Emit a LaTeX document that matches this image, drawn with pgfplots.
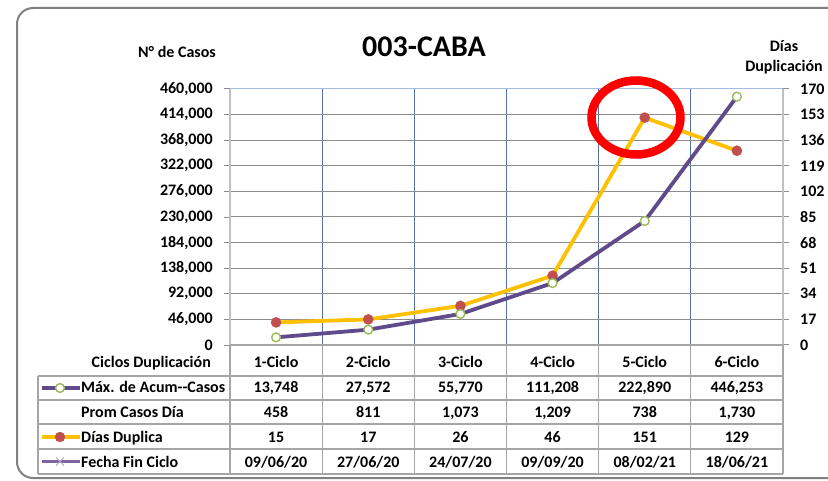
\documentclass[border=0pt]{standalone}
\usepackage{pgfplots}
\pgfplotsset{compat=1.18}
\usepackage{fontspec}
\setmainfont{Carlito}
\definecolor{purp}{HTML}{5F4B8B}
\definecolor{lav}{HTML}{8064A2}
\definecolor{lavx}{HTML}{B3A2C7}
\definecolor{grn}{HTML}{9BBB59}
\definecolor{yel}{HTML}{FFC000}
\definecolor{redm}{HTML}{C0504D}
\definecolor{vgrid}{HTML}{5573A6}
\definecolor{hgrid}{HTML}{8C8C8C}
\definecolor{topln}{HTML}{A4BCE3}
\definecolor{tabln}{HTML}{A6A6A6}
\definecolor{frm}{HTML}{808080}
\begin{document}
\begin{tikzpicture}[x=1pt,y=1pt,
  txt/.style={font=\bfseries\fontsize{16}{18}\selectfont, inner sep=0pt}]
\path[use as bounding box] (0,0) rectangle (828,480);
\coordinate (pa) at (230,135);
% outer frame
\draw[frm, line width=2pt, rounded corners=16pt] (17,472) rectangle (845,2);

% right axis: Dias Duplica (drawn first, carries grids)
\begin{axis}[
  at={(pa)}, anchor=south west, scale only axis,
  width=553pt, height=256pt,
  xmin=0.5, xmax=6.5, ymin=0, ymax=170,
  axis line style={draw=none},
  xtick={1,2,3,4,5,6},
  xticklabels={1-Ciclo,2-Ciclo,3-Ciclo,4-Ciclo,5-Ciclo,6-Ciclo},
  xticklabel style={txt, anchor=base, yshift=-16pt},
  major x tick style={draw=none},
  minor xtick={1.5,2.5,3.5,4.5,5.5},
  xminorgrids, minor x grid style={draw=vgrid, line width=1pt},
  minor tick length=0pt,
  ytick={0,17,...,170}, ytick pos=right,
  ymajorgrids, major y grid style={draw=hgrid, line width=1pt},
  tick align=outside, major tick length=6pt,
  every tick/.style={draw=hgrid, line width=1pt},
  yticklabel style={txt, anchor=west, xshift=11pt,
    /pgf/number format/assume math mode=true},
  clip=false,
]
\addplot[yel, line width=3.8pt, mark=*, mark size=5.2pt,
  mark options={draw=redm, fill=redm, line width=0.1pt}]
  coordinates {(1,15) (2,17) (3,26) (4,46) (5,151) (6,129)};
\end{axis}

% left axis: Max. de Acum--Casos
\begin{axis}[
  at={(pa)}, anchor=south west, scale only axis,
  width=553pt, height=256pt,
  xmin=0.5, xmax=6.5, ymin=0, ymax=460000,
  axis line style={draw=none},
  xtick=\empty,
  ytick={0,46000,...,460000}, ytick pos=left,
  scaled y ticks=false,
  tick align=outside, major tick length=6pt,
  every tick/.style={draw=hgrid, line width=1pt},
  yticklabel style={txt, anchor=east, xshift=-11pt,
    /pgf/number format/.cd, fixed, precision=0, 1000 sep={,},
    assume math mode=true},
  clip=false,
]
\addplot[purp, line width=3.8pt, mark=*, mark size=4.4pt,
  mark options={draw=grn, fill=white, line width=1.4pt}]
  coordinates {(1,13748) (2,27572) (3,55770) (4,111208) (5,222890) (6,446253)};
\end{axis}

% plot area border
\draw[topln, line width=1pt] (230,391) -- (783,391);
\draw[tabln!70, line width=1.2pt] (230,135) -- (230,391);
\draw[tabln!70, line width=1.2pt] (783,135) -- (783,391);

% data table grid
\foreach \yy in {104,80,56,31,6} \draw[tabln, line width=1.2pt] (38,\yy) -- (783,\yy);
\draw[tabln, line width=1.2pt] (230,135) -- (783,135);
\draw[tabln, line width=1.2pt] (38,104) -- (38,6);
\foreach \i in {0,...,6} \draw[tabln, line width=1.2pt] ({230+92.1667*\i},135) -- ({230+92.1667*\i},6);

% row headers
\node[txt, anchor=base west] at (81,88) {Máx. de Acum-{}-Casos};
\node[txt, anchor=base west] at (81,63) {Prom Casos Día};
\node[txt, anchor=base west] at (81,38) {Días Duplica};
\node[txt, anchor=base west] at (81,13) {Fecha Fin Ciclo};
% legend keys
\draw[purp, line width=3.8pt] (42,92) -- (80,92);
\draw[grn, fill=white, line width=1.4pt] (60,92) circle (4.4);
\draw[yel, line width=3.8pt] (42,43) -- (80,43);
\fill[redm] (60,43) circle (5.2);
\draw[lav, line width=3.8pt] (42,18.5) -- (80,18.5);
\draw[lavx, line width=1pt] (56,14.5) -- (64,22.5) (56,22.5) -- (64,14.5);

% table values
\foreach \a/\b [count=\i] in {13/748,27/572,55/770,111/208,222/890,446/253}
  \node[txt, anchor=base] at ({230+92.1667*(\i-0.5)},88) {\a,\b};
\foreach \t [count=\i] in {458,811,{1,073},{1,209},738,{1,730}}
  \node[txt, anchor=base] at ({230+92.1667*(\i-0.5)},63) {\t};
\foreach \t [count=\i] in {15,17,26,46,151,129}
  \node[txt, anchor=base] at ({230+92.1667*(\i-0.5)},38) {\t};
\foreach \t [count=\i] in {09/06/20,27/06/20,24/07/20,09/09/20,08/02/21,18/06/21}
  \node[txt, anchor=base] at ({230+92.1667*(\i-0.5)},13) {\t};

% titles and axis captions
\node[font=\bfseries\fontsize{30}{34}\selectfont, inner sep=0pt, anchor=base] at (424,423) {003-CABA};
\node[txt, anchor=base east] at (216,422) {N° de Casos};
\node[txt, anchor=base] at (784,428) {Días};
\node[txt, anchor=base] at (784,408) {Duplicación};
\node[txt, anchor=base east] at (211,113) {Ciclos Duplicación};

% annotation
\draw[red, line width=8.5pt] (636,362.5) ellipse [x radius=44.5, y radius=37];
\end{tikzpicture}
\end{document}
